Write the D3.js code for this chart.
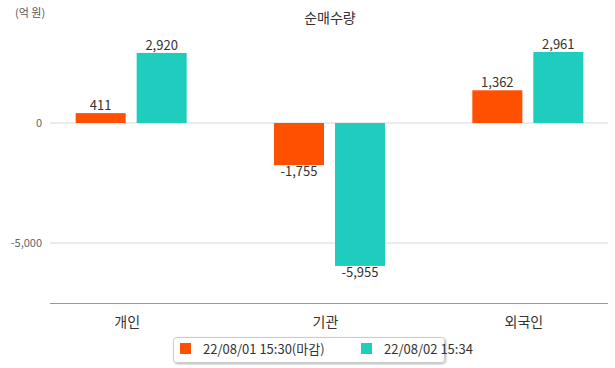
<!DOCTYPE html>
<html><head><meta charset="utf-8">
<script src="https://cdn.jsdelivr.net/npm/d3@7"></script>
<style>body{margin:0;background:#fff;font-family:"Noto Sans CJK KR","Noto Sans",sans-serif;}</style>
</head><body>
<svg id="c" width="615" height="368"></svg>
<script>
const categories = ["개인", "기관", "외국인"];
const seriesNames = ["22/08/01 15:30(마감)", "22/08/02 15:34"];
const series1 = [411, -1755, 1362];
const series2 = [2920, -5955, 2961];
const yTicks = [0, -5000];
const colors = ["#FF5000", "#1ECDBE"];

const fmt = v => d3.format(",")(v).replace("\u2212", "-");
const svg = d3.select("#c");
const font = '"Noto Sans CJK KR","Noto Sans",sans-serif';
const y = d3.scaleLinear().domain([-7500, 5000]).range([303, 3]);
const x = d3.scaleBand().domain(categories).range([32, 627]);
const x1 = d3.scaleBand().domain([0, 1]).range([0, 111]).paddingInner(0.18);
const left = 50, right = 608;

// gridlines
svg.append("g").selectAll("line").data(yTicks).join("line")
  .attr("x1", left).attr("x2", right)
  .attr("y1", d => y(d)).attr("y2", d => y(d))
  .attr("stroke", "#d8d8d8").attr("stroke-width", 1);
svg.append("g").selectAll("text").data(yTicks).join("text")
  .attr("x", 42).attr("y", d => y(d) + 4).attr("text-anchor", "end")
  .attr("font-size", 11).attr("fill", "#666").attr("font-family", font)
  .text(d => fmt(d));

// bottom axis line
svg.append("line").attr("x1", left).attr("x2", right)
  .attr("y1", y(-7500) + 0.5).attr("y2", y(-7500) + 0.5)
  .attr("stroke", "#999").attr("stroke-width", 1);

const data = [series1, series2];
data.forEach((vals, si) => {
  const g = svg.append("g");
  g.selectAll("rect").data(vals).join("rect")
    .attr("x", (d, i) => x(categories[i]) + x.bandwidth() / 2 - 55.5 + x1(si))
    .attr("width", x1.bandwidth())
    .attr("y", d => Math.min(y(d), y(0)))
    .attr("height", d => Math.abs(y(d) - y(0)))
    .attr("fill", colors[si]);
  g.selectAll("text").data(vals).join("text")
    .attr("x", (d, i) => x(categories[i]) + x.bandwidth() / 2 - 55.5 + x1(si) + x1.bandwidth() / 2)
    .attr("y", d => d >= 0 ? y(d) - 3 : y(d) + 11)
    .attr("text-anchor", "middle").attr("font-size", 13).attr("fill", "#333")
    .attr("font-family", font)
    .text(d => fmt(d));
});

// category labels
svg.append("g").selectAll("text").data(categories).join("text")
  .attr("x", d => x(d) + x.bandwidth() / 2 - 4).attr("y", 327)
  .attr("text-anchor", "middle").attr("font-size", 14).attr("fill", "#333")
  .attr("font-family", font).text(d => d);

// title & unit
svg.append("text").attr("x", 330).attr("y", 23).attr("text-anchor", "middle")
  .attr("font-size", 14).attr("fill", "#333").attr("font-family", font).text("순매수량");
svg.append("text").attr("x", 15).attr("y", 17).attr("font-size", 11)
  .attr("fill", "#555").attr("font-family", font).text("(억 원)");

// legend
const defs = svg.append("defs");
const f = defs.append("filter").attr("id", "sh").attr("x", "-10%").attr("y", "-30%").attr("width", "120%").attr("height", "160%");
f.append("feDropShadow").attr("dx", 1).attr("dy", 1).attr("stdDeviation", 1).attr("flood-color", "#000").attr("flood-opacity", 0.3);
svg.append("rect").attr("x", 173.5).attr("y", 337.5).attr("width", 271).attr("height", 25).attr("rx", 3)
  .attr("fill", "#fff").attr("stroke", "#ccc").attr("filter", "url(#sh)");
const lx = [180, 361];
seriesNames.forEach((n, i) => {
  svg.append("rect").attr("x", lx[i]).attr("y", 343).attr("width", 11).attr("height", 11).attr("fill", colors[i]);
  svg.append("text").attr("x", lx[i] + 23).attr("y", 354).attr("font-size", 13).attr("fill", "#333")
    .attr("font-family", font).text(n);
});
</script>
</body></html>
